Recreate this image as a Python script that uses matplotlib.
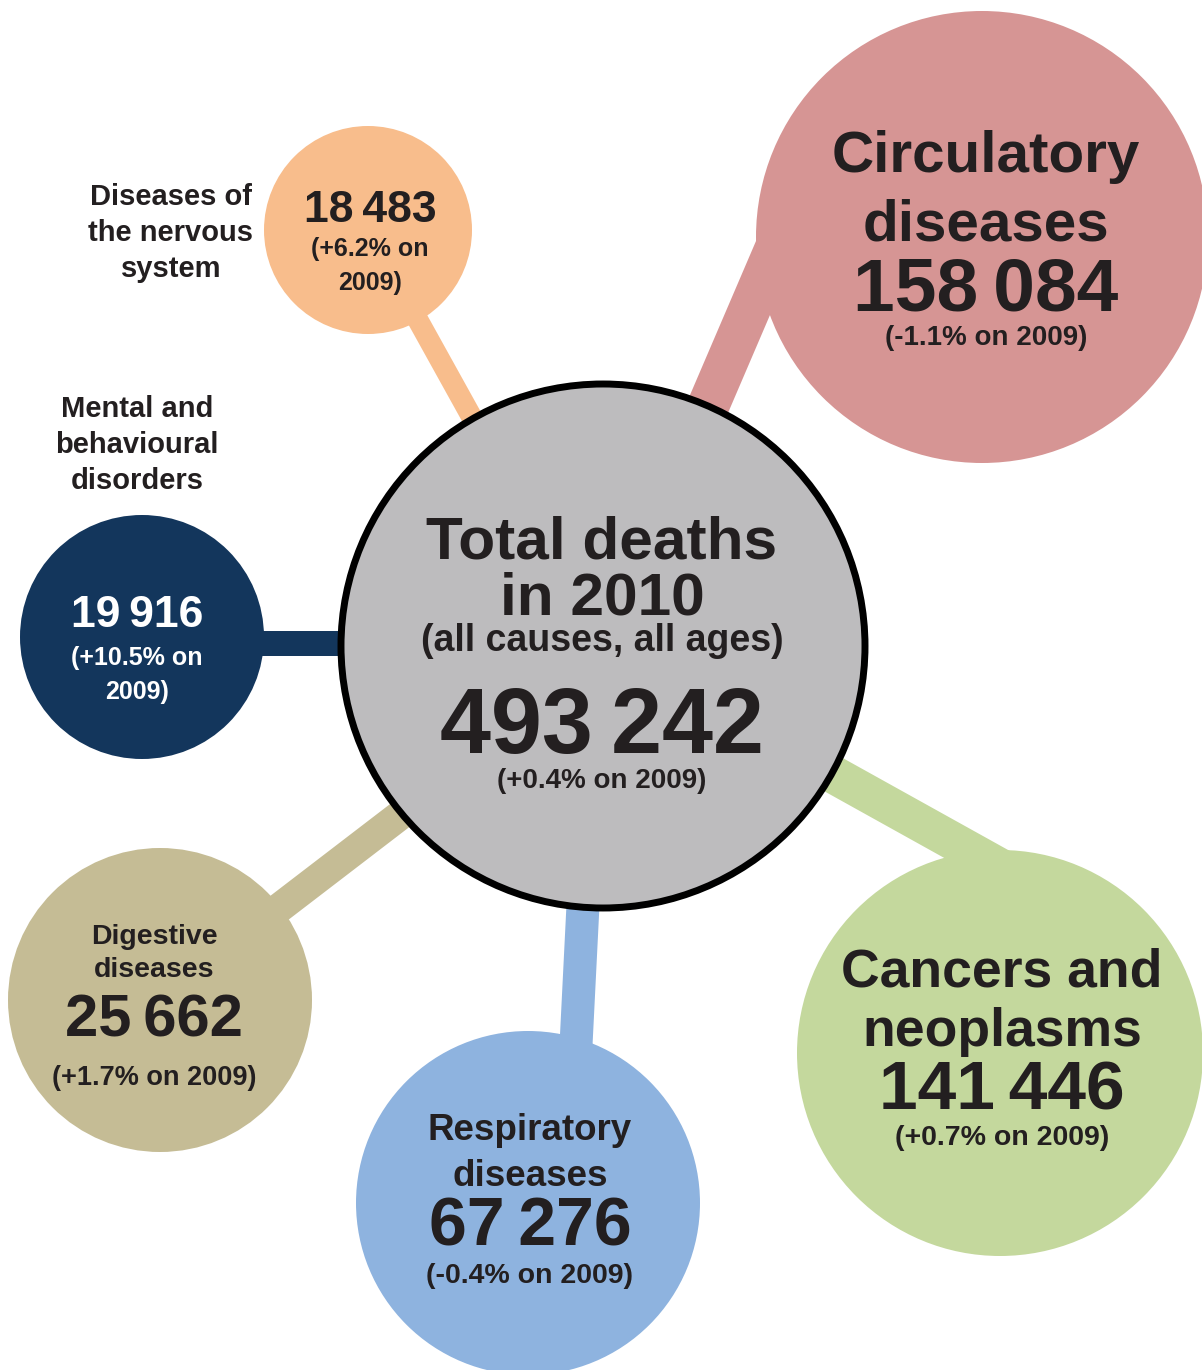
import matplotlib.pyplot as plt
import numpy as np
from matplotlib.patches import Circle, Polygon

plt.rcParams['font.family'] = ['Liberation Sans', 'DejaVu Sans']

# data
total = 493242
total_change = 0.4
labels = ["Circulatory\ndiseases", "Cancers and\nneoplasms", "Respiratory\ndiseases",
          "Digestive\ndiseases", "Mental and\nbehavioural\ndisorders",
          "Diseases of\nthe nervous\nsystem"]
deaths = [158084, 141446, 67276, 25662, 19916, 18483]
changes = [-1.1, 0.7, -0.4, 1.7, 10.5, 6.2]
colors = ["#D69594", "#C4D89D", "#8EB3DF", "#C5BC95", "#13365C", "#F8BD8C"]

# layout (pixel space)
centres = [(982, 237), (1000, 1053), (528, 1203), (160, 1000), (142, 637), (368, 230)]
radii = [226, 203, 172, 152, 122, 104]
bars = [((700, 425), (790, 215), 42), ((800, 756), (1005, 870), 38),
        ((583, 905), (576, 1045), 33), ((420, 800), (240, 938), 30),
        ((230, 643), (360, 643), 25), ((368, 230), (480, 432), 21)]

fig = plt.figure(figsize=(12.02, 13.70), dpi=100)
ax = fig.add_axes([0, 0, 1, 1])
ax.set_xlim(0, 1202)
ax.set_ylim(1370, 0)
ax.axis('off')

def fmt(n):
    # thin space as thousands separator
    return f"{n:,}".replace(",", "\u2009")

def pct(c):
    return f"({c:+.1f}% on"

# connector bars
for (p0, p1, w), col in zip(bars, colors):
    p0, p1 = np.array(p0, float), np.array(p1, float)
    d = (p1 - p0) / np.linalg.norm(p1 - p0)
    n = np.array([-d[1], d[0]]) * w / 2
    ax.add_patch(Polygon([p0 + n, p1 + n, p1 - n, p0 - n], color=col, zorder=1, lw=0))

# bubbles
for (x, y), r, col in zip(centres, radii, colors):
    ax.add_patch(Circle((x, y), r, color=col, zorder=2, lw=0))

ax.add_patch(Circle((603, 646), 262, facecolor="#BDBCBE", edgecolor="black", lw=5, zorder=3))

tc = "#231F20"
kw = dict(ha="center", va="center", color=tc, fontweight="bold", zorder=5)

# centre
ax.text(602, 543, "Total deaths", fontsize=43.5, **kw)
ax.text(602, 599, "in 2010", fontsize=43.5, **kw)
ax.text(602, 641, "(all causes, all ages)", fontsize=27, **kw)
ax.text(602, 729, fmt(total), fontsize=66, **kw)
ax.text(602, 781, f"({total_change:+.1f}% on 2009)", fontsize=20, **kw)

# circulatory
ax.text(986, 157, "Circulatory", fontsize=42, **kw)
ax.text(986, 225, "diseases", fontsize=42, **kw)
ax.text(986, 291, fmt(deaths[0]), fontsize=54, **kw)
ax.text(986, 338, pct(changes[0]) + " 2009)", fontsize=20, **kw)

# cancers
ax.text(1002, 972, "Cancers and", fontsize=38.5, **kw)
ax.text(1002, 1032, "neoplasms", fontsize=38.5, **kw)
ax.text(1002, 1092, fmt(deaths[1]), fontsize=50, **kw)
ax.text(1002, 1138, pct(changes[1]) + " 2009)", fontsize=20.5, **kw)

# respiratory
ax.text(530, 1130, "Respiratory", fontsize=26.5, **kw)
ax.text(530, 1177, "diseases", fontsize=26.5, **kw)
ax.text(530, 1227, fmt(deaths[2]), fontsize=49, **kw)
ax.text(530, 1276, pct(changes[2]) + " 2009)", fontsize=20.5, **kw)

# digestive
ax.text(154, 937, "Digestive", fontsize=20.5, **kw)
ax.text(154, 970, "diseases", fontsize=20.5, **kw)
ax.text(154, 1021, fmt(deaths[3]), fontsize=43, **kw)
ax.text(154, 1078, pct(changes[3]) + " 2009)", fontsize=19.5, **kw)

# mental
ax.text(137, 445, labels[4], fontsize=21, linespacing=1.38, **kw)
kw_w = dict(kw, color="white")
ax.text(137, 615, fmt(deaths[4]), fontsize=32, **kw_w)
ax.text(137, 675, pct(changes[4]) + "\n2009)", fontsize=18, linespacing=1.5, **kw_w)

# nervous
ax.text(171, 233, labels[5], fontsize=21, linespacing=1.38, **kw)
ax.text(370, 210, fmt(deaths[5]), fontsize=32, **kw)
ax.text(370, 266, pct(changes[5]) + "\n2009)", fontsize=18, linespacing=1.5, **kw)

fig.savefig("out.png", dpi=100)
